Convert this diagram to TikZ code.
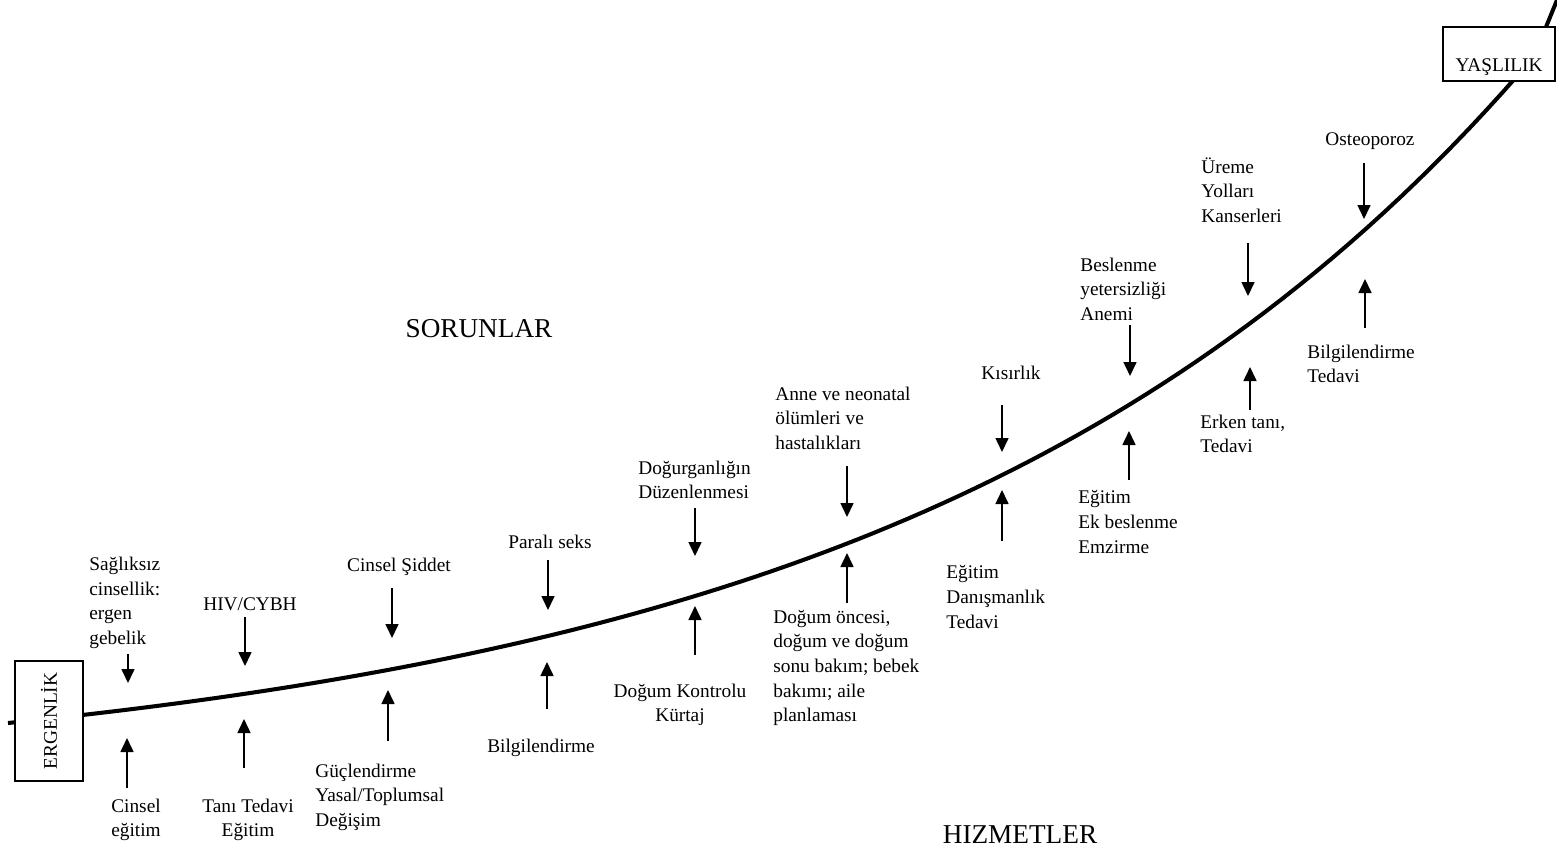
\documentclass[tikz,border=0pt]{standalone}
\usepackage{fontspec}
\setmainfont{Liberation Serif}
\usepackage{tikz}
\usetikzlibrary{arrows.meta, positioning, calc}
\tikzstyle{stage} = [rectangle, draw=black, fill=white, line width=0.8pt, inner sep=0pt, font=\fontsize{11}{14}\selectfont]
\tikzstyle{note} = [inner sep=0pt, align=left, font=\fontsize{11}{14}\selectfont]
\tikzstyle{title} = [inner sep=0pt, font=\fontsize{15.5}{18}\selectfont]
\tikzstyle{arrow} = [-{Triangle[length=2.8mm, width=2.6mm]}, line width=0.9pt]
\tikzstyle{life} = [line width=2.3pt, line join=round]

\begin{document}
\begin{tikzpicture}[x=0.02cm, y=-0.02cm]
    \useasboundingbox (0,0) rectangle (1557,852);

    % Life course line
    \coordinate (top) at (1546,27);
    \coordinate (end) at (1557,0);
    \draw [life] plot [domain=8:1520, samples=90] (\x, {723 - 63.3*(exp(0.0016*(\x-8)) - 1)}) -- (top) -- (end);

    % Stages
    \node [stage, rotate=90, minimum width=2.4cm, minimum height=1.36cm] (ergen) at (49,721) {ERGENLİK};
    \node [stage, minimum width=2.24cm, minimum height=1.08cm] (yasli) at (1499,54) {\raisebox{-3.6mm}[0pt][0pt]{YAŞLILIK}};

    \node [title] (sorun) at (479,329) {SORUNLAR};
    \node [title] (hizmet) at (1020,835) {HIZMETLER};

    % Problems
    \node [note, anchor=west] (p1) at (89,603) {Sağlıksız\\cinsellik:\\ergen\\gebelik};
    \node [note] (p2) at (250,604) {HIV/CYBH};
    \node [note] (p3) at (399,567) {Cinsel Şiddet};
    \node [note] (p4) at (550,542) {Paralı seks};
    \node [note, anchor=west] (p5) at (638,480) {Doğurganlığın\\Düzenlenmesi};
    \node [note, anchor=west] (p6) at (775,418) {Anne ve neonatal\\ölümleri ve\\hastalıkları};
    \node [note] (p7) at (1011,373) {Kısırlık};
    \node [note, anchor=west] (p8) at (1080,289) {Beslenme\\yetersizliği\\Anemi};
    \node [note, anchor=west] (p9) at (1201,190) {Üreme\\Yolları\\Kanserleri};
    \node [note] (p10) at (1370,141) {Osteoporoz};

    % Services
    \node [note, align=center] (s1) at (136,820) {Cinsel\\eğitim};
    \node [note, align=center] (s2) at (248,820) {Tanı Tedavi\\Eğitim};
    \node [note, anchor=west] (s3) at (315,797) {Güçlendirme\\Yasal/Toplumsal\\Değişim};
    \node [note] (s4) at (541,748) {Bilgilendirme};
    \node [note, align=center] (s5) at (680,705) {Doğum Kontrolu\\Kürtaj};
    \node [note, anchor=west] (s6) at (773,668) {Doğum öncesi,\\doğum ve doğum\\sonu bakım; bebek\\bakımı; aile\\planlaması};
    \node [note, anchor=west] (s7) at (946,597) {Eğitim\\Danışmanlık\\Tedavi};
    \node [note, anchor=west] (s8) at (1078,522) {Eğitim\\Ek beslenme\\Emzirme};
    \node [note, anchor=west] (s9) at (1200,434) {Erken tanı,\\Tedavi};
    \node [note, anchor=west] (s10) at (1307,364) {Bilgilendirme\\Tedavi};

    % Arrows onto the line
    \foreach \n/\x/\ya/\yb in {1/128/654/683, 2/245/617/666, 3/392/588/638, 4/548/560/610, 5/695/508/556,
                               6/847/466/517, 7/1002/405/452, 8/1130/325/376, 9/1248/243/296, 10/1364/163/219} {
        \coordinate (pa\n) at (\x,\ya);
        \coordinate (pb\n) at (\x,\yb);
        \draw [arrow] (pa\n) -- (pb\n);
    }
    \foreach \n/\x/\ya/\yb in {1/127/788/738, 2/244/768/719, 3/388/741/690, 4/547/709/662, 5/695/655/606,
                               6/847/603/553, 7/1002/541/490, 8/1129/480/431, 9/1250/410/367, 10/1365/328/279} {
        \coordinate (sa\n) at (\x,\ya);
        \coordinate (sb\n) at (\x,\yb);
        \draw [arrow] (sa\n) -- (sb\n);
    }
\end{tikzpicture}
\end{document}
